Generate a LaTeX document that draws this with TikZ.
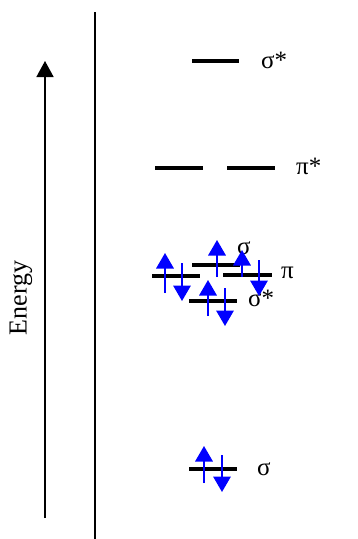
\documentclass[tikz,border=0pt]{standalone}
\usepackage{fontspec}
\setmainfont{Liberation Serif}
\usetikzlibrary{arrows.meta}
\begin{document}
\begin{tikzpicture}[x=1pt,y=-1pt,
  level/.style={line width=3.3pt},
  lbl/.style={font=\fontsize{25}{29}\selectfont, inner sep=0pt, anchor=west},
  spin/.style={draw=blue, line width=1.8pt, -{Triangle[length=15.5pt,width=17.5pt]}, fill=blue}]
\useasboundingbox (0,0) rectangle (357,539);
% axes
\coordinate (abot) at (45,518);
\coordinate (atop) at (45,61);
\draw[line width=1.6pt, -{Triangle[length=16pt,width=17pt]}] (abot) -- (atop);
\coordinate (vtop) at (95,12);
\coordinate (vbot) at (95,539);
\draw[line width=2pt] (vtop) -- (vbot);
\node[rotate=90, font=\fontsize{26}{30}\selectfont, inner sep=0pt] (energy) at (21,298) {Energy};
% sigma* top
\coordinate (s1a) at (192,61); \coordinate (s1b) at (239,61);
\draw[level] (s1a) -- (s1b);
\node[lbl] (ls1) at (261,60) {σ*};
% pi*
\coordinate (p1a) at (155,168); \coordinate (p1b) at (203,168);
\coordinate (p2a) at (227,168); \coordinate (p2b) at (275,168);
\draw[level] (p1a) -- (p1b);
\draw[level] (p2a) -- (p2b);
\node[lbl] (lp) at (296,166) {π*};
% middle cluster
\coordinate (sa) at (192,265); \coordinate (sb) at (240,265);
\coordinate (pla) at (152,276); \coordinate (plb) at (200,276);
\coordinate (pra) at (223,275); \coordinate (prb) at (272,275);
\coordinate (ssa) at (189,301); \coordinate (ssb) at (237,301);
\draw[level] (sa) -- (sb);
\draw[level] (pla) -- (plb);
\draw[level] (pra) -- (prb);
\draw[level] (ssa) -- (ssb);
\node[lbl] (lsm) at (237,248) {σ};
\node[lbl] (lpm) at (281,273) {π};
\node[lbl] (lssm) at (248,298) {σ*};
% spins
\coordinate (u1a) at (165,293); \coordinate (u1b) at (165,253);
\coordinate (d1a) at (182,263); \coordinate (d1b) at (182,301);
\coordinate (u2a) at (217,277); \coordinate (u2b) at (217,240);
\coordinate (u3a) at (242,277); \coordinate (u3b) at (242,250);
\coordinate (d3a) at (259,260); \coordinate (d3b) at (259,296);
\coordinate (u4a) at (208,316); \coordinate (u4b) at (208,280);
\coordinate (d4a) at (225,288); \coordinate (d4b) at (225,326);
\draw[spin] (u1a) -- (u1b);
\draw[spin] (d1a) -- (d1b);
\draw[spin] (u2a) -- (u2b);
\draw[spin] (u3a) -- (u3b);
\draw[spin] (d3a) -- (d3b);
\draw[spin] (u4a) -- (u4b);
\draw[spin] (d4a) -- (d4b);
% bottom sigma
\coordinate (sba) at (189,469); \coordinate (sbb) at (237,469);
\draw[level] (sba) -- (sbb);
\node[lbl] (lsb) at (257,469) {σ};
\coordinate (u5a) at (204,483); \coordinate (u5b) at (204,446);
\coordinate (d5a) at (222,455); \coordinate (d5b) at (222,492);
\draw[spin] (u5a) -- (u5b);
\draw[spin] (d5a) -- (d5b);
\end{tikzpicture}
\end{document}
